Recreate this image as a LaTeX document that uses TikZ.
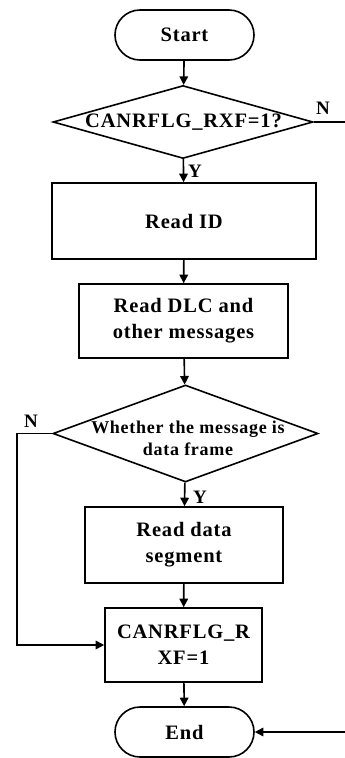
\documentclass[tikz,border=0pt]{standalone}
\usepackage{fontspec}
\setmainfont{Liberation Serif}[LetterSpace=4]
\usetikzlibrary{shapes.geometric,arrows.meta}
\tikzset{
  base/.style={draw=black, line width=1.6pt, inner sep=0pt, align=center, font=\fontsize{20.5}{26}\selectfont\bfseries},
  term/.style={base, rectangle, rounded corners=25pt, minimum width=139pt, minimum height=50pt},
  proc/.style={base, rectangle},
  dec/.style={draw=black, line width=1.6pt, diamond, inner sep=0pt},
  dtext/.style={align=center, inner sep=0pt},
  lab/.style={font=\fontsize{19}{22}\selectfont\bfseries, inner sep=0pt},
  conn/.style={line width=1.6pt, -{Triangle[length=8.5pt,width=8.5pt]}},
  line/.style={line width=1.6pt}
}
\begin{document}
\begin{tikzpicture}[x=1pt,y=-1pt]
\useasboundingbox (0,0) rectangle (345,758);
\node[term] (start) at (184.5,35) {Start};
\node[dec, minimum width=260pt, minimum height=73pt] (d1) at (183,122) {};
\node[dtext, font=\fontsize{20.5}{24}\selectfont\bfseries] (d1t) at (183.5,122) {CANRFLG\_RXF=1?};
\node[proc, minimum width=264pt, minimum height=76pt] (rid) at (184,221) {Read ID};
\node[proc, minimum width=209pt, minimum height=74pt] (dlc) at (183.5,321) {Read DLC and\\other messages};
\node[dec, minimum width=265pt, minimum height=97pt] (d2) at (185.5,433.5) {};
\node[dtext, font=\fontsize{18}{22}\selectfont\bfseries] (d2t) at (188,438) {Whether the message is\\data frame};
\node[proc, minimum width=198pt, minimum height=76pt] (seg) at (184,545) {Read data\\segment};
\node[proc, minimum width=157pt, minimum height=74pt] (flag) at (183.5,645) {CANRFLG\_R\\XF=1};
\node[term] (end) at (184.5,732) {End};

\coordinate (rn) at (345,122);
\coordinate (re) at (345,732);
\coordinate (ln) at (17,433.5);

\draw[conn] (start) -- (d1);
\draw[conn] (d1) -- (rid);
\draw[conn] (rid) -- (dlc);
\draw[conn] (dlc) -- (d2);
\draw[conn] (d2) -- (seg);
\draw[conn] (seg) -- (flag);
\draw[conn] (flag) -- (end);
\draw[line] (d1.east) -- (rn);
\draw[conn] (re) -- (end.east);
\draw[conn] (d2.west) -- (ln) |- (flag.west);

\node[lab] (n1) at (323,108) {N};
\node[lab] (y1) at (195,171) {Y};
\node[lab] (n2) at (31,421) {N};
\node[lab] (y2) at (200,497) {Y};
\end{tikzpicture}
\end{document}
